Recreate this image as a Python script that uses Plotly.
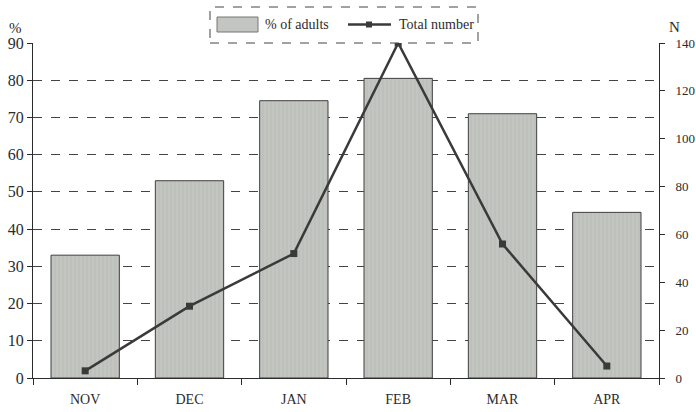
import plotly.graph_objects as go

months = ["NOV", "DEC", "JAN", "FEB", "MAR", "APR"]
pct_adults = [33, 53, 74.5, 80.5, 71, 44.5]
total_number = [3, 30, 52, 140, 56, 5]

FONT = "Liberation Serif"
INK = "#2b2b2b"
BAR_FILL = "#c3c5c1"
BAR_EDGE = "#3f3f3f"
LINE_COL = "#3a3a3a"

# plot area in pixels (used to place the hand-drawn legend box in paper units)
W, H = 696, 412
ML, MR, MT, MB = 33, 37, 43, 34
PW, PH = W - ML - MR, H - MT - MB


def px(x):
    return (x - ML) / PW


def py(y):
    return (H - MB - y) / PH


fig = go.Figure()

fig.add_trace(go.Bar(
    x=months, y=pct_adults, name="% of adults", yaxis="y",
    width=0.655,
    marker=dict(color=BAR_FILL, line=dict(color=BAR_EDGE, width=1),
                pattern=dict(shape="|", fgcolor="#aeb0ac", size=4, solidity=0.25)),
    showlegend=False,
))

fig.add_trace(go.Scatter(
    x=months, y=total_number, name="Total number", yaxis="y2",
    mode="lines+markers",
    line=dict(color=LINE_COL, width=2.5),
    marker=dict(symbol="square", size=7, color=LINE_COL),
    showlegend=False,
))

legend_shapes = [
    # dashed legend frame
    dict(type="rect", xref="paper", yref="paper",
         x0=px(210), x1=px(478), y0=py(43), y1=py(7),
         line=dict(color="#444444", width=1, dash="dash"),
         fillcolor="rgba(0,0,0,0)", layer="above"),
    # bar swatch
    dict(type="rect", xref="paper", yref="paper",
         x0=px(217), x1=px(258), y0=py(32), y1=py(17),
         line=dict(color="#777777", width=1), fillcolor=BAR_FILL, layer="above"),
    # line swatch
    dict(type="line", xref="paper", yref="paper",
         x0=px(348), x1=px(391), y0=py(24.5), y1=py(24.5),
         line=dict(color=LINE_COL, width=2.5), layer="above"),
    dict(type="rect", xref="paper", yref="paper",
         x0=px(366), x1=px(372), y0=py(27.5), y1=py(21.5),
         line=dict(color=LINE_COL, width=0), fillcolor=LINE_COL, layer="above"),
]

annotations = [
    dict(text="% of adults", xref="paper", yref="paper", x=px(263), y=py(24.5),
         xanchor="left", yanchor="middle", showarrow=False,
         font=dict(family=FONT, size=14, color=INK)),
    dict(text="Total number", xref="paper", yref="paper", x=px(397), y=py(24.5),
         xanchor="left", yanchor="middle", showarrow=False,
         font=dict(family=FONT, size=14, color=INK)),
    dict(text="%", xref="paper", yref="paper", x=px(7), y=py(28),
         xanchor="left", yanchor="middle", showarrow=False,
         font=dict(family=FONT, size=15, color=INK)),
    dict(text="N", xref="paper", yref="paper", x=px(667), y=py(27),
         xanchor="left", yanchor="middle", showarrow=False,
         font=dict(family=FONT, size=15, color=INK)),
]

fig.update_layout(
    width=W, height=H,
    margin=dict(l=ML, r=MR, t=MT, b=MB),
    paper_bgcolor="white", plot_bgcolor="white",
    font=dict(family=FONT, size=14, color=INK),
    showlegend=False,
    xaxis=dict(showline=True, linecolor=INK, linewidth=1, ticks="outside",
               tickson="boundaries", ticklen=6, tickcolor=INK,
               tickfont=dict(size=14), ticklabelstandoff=8, mirror=False,
               automargin=False),
    yaxis=dict(range=[0, 90], dtick=10, showline=True, linecolor=INK, linewidth=1,
               ticks="outside", ticklen=5, tickcolor=INK,
               showgrid=True, gridcolor="#444444", griddash="dash", gridwidth=1,
               zeroline=False, tickfont=dict(size=16), automargin=False),
    yaxis2=dict(range=[0, 140], dtick=20, overlaying="y", side="right",
                showline=True, linecolor=INK, linewidth=1, ticks="outside",
                ticklen=5, tickcolor=INK, showgrid=False, zeroline=False,
                tickfont=dict(size=13), ticklabelstandoff=8, automargin=False),
    shapes=legend_shapes,
    annotations=annotations,
)

fig.write_html("out.html")
